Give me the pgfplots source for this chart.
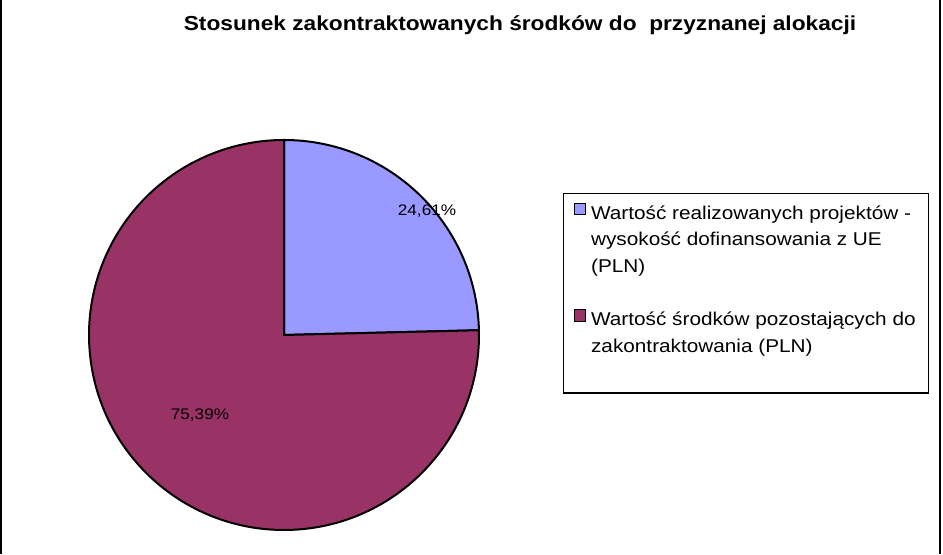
\documentclass[border=0pt]{standalone}
\usepackage{pgfplots}
\pgfplotsset{compat=1.18}
\usepackage{pgfplotstable}
\usepackage{fontspec}
\setmainfont{Liberation Sans}[FakeStretch=1.12]
\definecolor{sliceblue}{HTML}{9999FF}
\definecolor{slicered}{HTML}{993366}

% udzial procentowy
\pgfplotstableread{
value
24.61
75.39
}\piedata

\begin{document}
\begin{tikzpicture}
\pgfplotstablegetelem{0}{value}\of\piedata \let\valA\pgfplotsretval
\pgfplotstablegetelem{1}{value}\of\piedata \let\valB\pgfplotsretval
\pgfmathsetmacro\angA{90-3.6*\valA}
\pgfmathsetmacro\angB{\angA-3.6*\valB}
\def\rad{146.25pt}
\begin{axis}[
  scale only axis, width=707.25pt, height=415.5pt,
  xmin=0, xmax=943, ymin=0, ymax=554,
  hide axis, clip=false,
  /pgf/number format/assume math mode=true,
  legend style={at={(0.597,0.6516)}, anchor=north west, draw=black,
    line width=1pt, inner xsep=7.5pt, inner ysep=7pt,
    font=\fontsize{13.9}{20}\selectfont, row sep=24pt, column sep=2pt,
    cells={align=left, inner sep=0pt}},
  legend cell align=left,
  legend image code/.code={\draw[#1, draw=black, line width=0.6pt] (0pt,-1pt) rectangle (8.5pt,7.5pt);},
]
\addlegendimage{fill=sliceblue, yshift=20pt}
\addlegendentry{Wartość realizowanych projektów -\\wysokość dofinansowania z UE\\(PLN)}
\addlegendimage{fill=slicered, yshift=20pt}
\addlegendentry{Wartość środków pozostających do\\zakontraktowania (PLN)\\\mbox{}}

\fill[sliceblue, draw=black, line width=1.5pt] (axis cs:284,219) -- ++(90:\rad)
  arc[start angle=90, end angle=\angA, radius=\rad] -- cycle;
\fill[slicered, draw=black, line width=1.5pt] (axis cs:284,219) -- ++(\angA:\rad)
  arc[start angle=\angA, end angle=\angB, radius=\rad] -- cycle;

\node[anchor=base, font=\fontsize{11.5}{13}\selectfont] at (axis cs:427,338)
  {\pgfmathprintnumber[fixed,fixed zerofill,precision=2,use comma]{\valA}\%};
\node[anchor=base, font=\fontsize{11.5}{13}\selectfont] at (axis cs:200,134)
  {\pgfmathprintnumber[fixed,fixed zerofill,precision=2,use comma]{\valB}\%};

\node[anchor=base, font=\bfseries\fontsize{15.2}{18}\selectfont] at (axis cs:520,523)
  {Stosunek zakontraktowanych środków do\ \ przyznanej alokacji};

\draw[line width=1.5pt] (axis cs:0.8,0) -- (axis cs:0.8,554);
\draw[line width=1.5pt] (axis cs:940,0) -- (axis cs:940,554);
\end{axis}
\pgfresetboundingbox
\path (current axis.south west) rectangle (current axis.north east);
\end{tikzpicture}
\end{document}
